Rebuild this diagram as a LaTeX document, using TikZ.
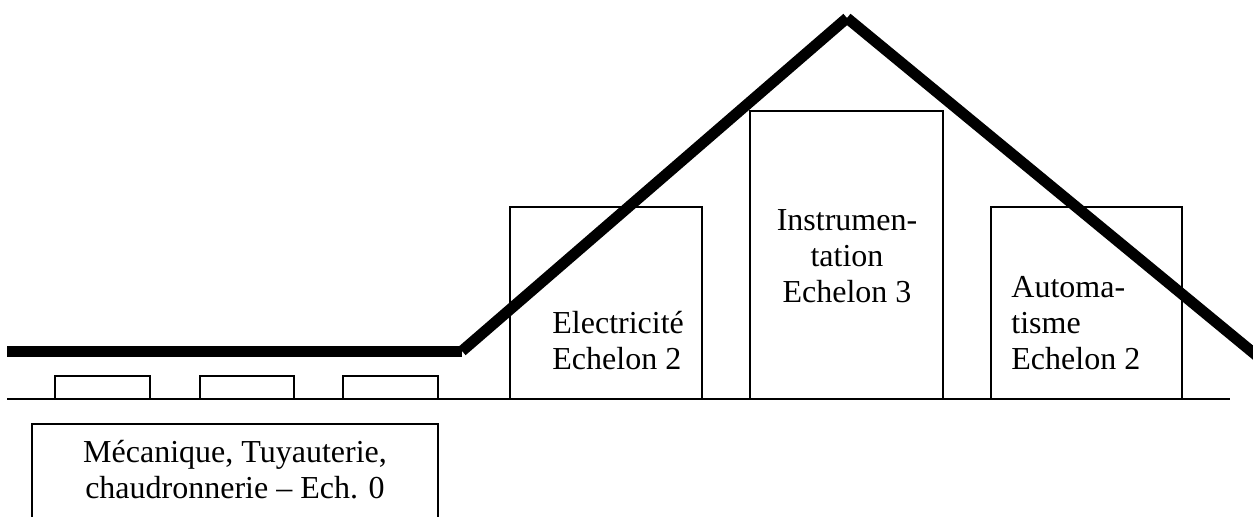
\documentclass[tikz,border=0pt]{standalone}
\usepackage{fontspec}
\setmainfont{Liberation Serif}
\begin{document}
\begin{tikzpicture}[x=0.5pt,y=-0.5pt,
  box/.style={draw=black,line width=1pt,fill=none},
  roof/.style={line width=5.5pt,line cap=butt},
  lbl/.style={inner sep=0pt,font=\fontsize{16}{18}\selectfont}]
\useasboundingbox (0,0) rectangle (1253,516);
\clip (0,0) rectangle (1253,516);
% ground
\coordinate (g1) at (7,399);
\coordinate (g2) at (1230,399);
\draw[line width=1pt] (g1) -- (g2);
% small boxes
\draw[box] (55,376) rectangle (150,399);
\draw[box] (200,376) rectangle (294,399);
\draw[box] (343,376) rectangle (438,399);
% bottom box
\draw[box] (32,424) rectangle (438,530);
\node[lbl,anchor=north,align=center] (meca) at (235,437) {\strut Mécanique, Tuyauterie,\\chaudronnerie – Ech. 0\strut};
% buildings
\draw[box] (510,207) rectangle (702,399);
\node[lbl,anchor=north west,align=left] (elec) at (552,308) {\strut Electricité\\Echelon 2\strut};
\draw[box] (750,111) rectangle (943,399);
\node[lbl,anchor=north,align=center] (inst) at (847,205) {\strut Instrumen-\\tation\\Echelon 3\strut};
\draw[box] (991,207) rectangle (1182,399);
\node[lbl,anchor=north west,align=left] (auto) at (1011,272) {\strut Automa-\\tisme\\Echelon 2\strut};
% roof line
\coordinate (r0) at (7,351);
\coordinate (r1) at (462,351);
\coordinate (r2) at (847,18);
\coordinate (r3) at (1262,360);
\draw[roof] (r0) -- (r1);
\draw[roof] (r1) -- (r2);
\draw[roof] (r2) -- (r3);
\end{tikzpicture}
\end{document}
